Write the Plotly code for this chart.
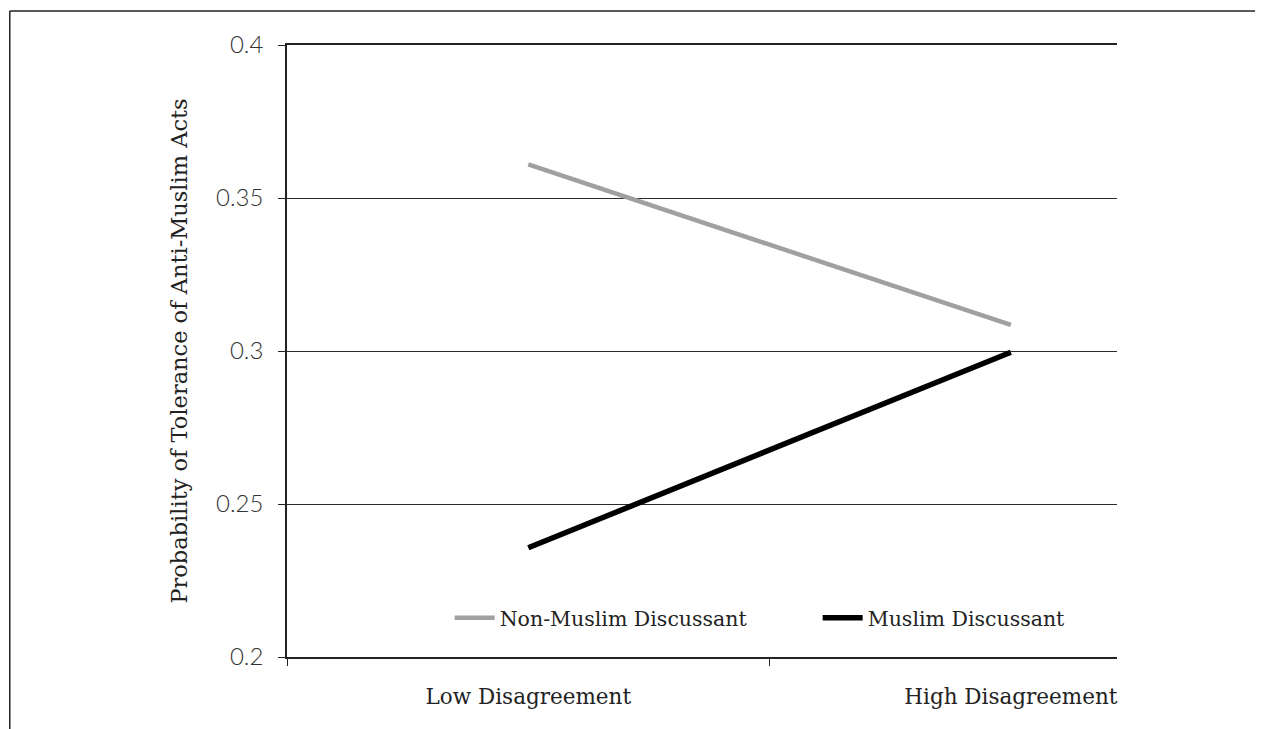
import plotly.graph_objects as go

categories = ["Low Disagreement", "High Disagreement"]
cat_pos = [0, 1]
non_muslim = [0.361, 0.3085]
muslim = [0.2357, 0.2996]
y_ticks = [0.2, 0.25, 0.3, 0.35, 0.4]

SERIF = "DejaVu Serif"
SANS = "Lato"

fig = go.Figure()
fig.add_trace(go.Scatter(x=cat_pos, y=non_muslim, mode="lines", name="Non-Muslim Discussant",
                         line=dict(color="#a0a0a0", width=4.5)))
fig.add_trace(go.Scatter(x=cat_pos, y=muslim, mode="lines", name="Muslim Discussant",
                         line=dict(color="#000000", width=5.5)))

fig.update_layout(
    width=1255, height=721,
    margin=dict(l=279, r=146, t=37, b=72),
    paper_bgcolor="white", plot_bgcolor="white",
    showlegend=True,
    legend=dict(orientation="h", x=0.196, y=0.064, xanchor="left", yanchor="middle",
                font=dict(family=SERIF, size=20.5, color="#222"),
                bgcolor="rgba(0,0,0,0)", entrywidth=313, entrywidthmode="pixels",
                itemwidth=40),
    shapes=[
        dict(type="line", xref="paper", yref="paper", x0=-0.334, x1=1.3, y0=1.0556, y1=1.0556,
             line=dict(color="#222", width=1.5)),
        dict(type="line", xref="paper", yref="paper", x0=-0.334, x1=-0.334, y0=1.0556, y1=-0.2,
             line=dict(color="#222", width=1.5)),
    ],
)

fig.update_xaxes(
    range=[-0.5, 1.22],
    tickmode="array", tickvals=cat_pos, ticktext=categories,
    ticks="", showgrid=False, zeroline=False,
    showline=True, linecolor="#222", linewidth=1.6, mirror=True,
    tickfont=dict(family=SERIF, size=21.5, color="#222"),
    ticklabelstandoff=19,
    minor=dict(dtick=1, tick0=0.5, ticks="outside", ticklen=7, tickcolor="#222", tickwidth=1.3, showgrid=False),
)
fig.update_yaxes(
    range=[0.2, 0.4],
    tickmode="array", tickvals=y_ticks, ticktext=[str(v) for v in y_ticks],
    ticks="outside", ticklen=7, tickcolor="#222", tickwidth=1.3,
    showgrid=True, gridcolor="#2a2a2a", gridwidth=1.4, zeroline=False,
    showline=True, linecolor="#222", linewidth=1.6,
    tickfont=dict(family=SANS, size=24, color="#333", weight=300),
    ticklabelstandoff=10,
    title=dict(text="Probability of Tolerance of Anti-Muslim Acts", standoff=22,
               font=dict(family=SERIF, size=22.5, color="#222")),
)

fig.write_html("out.html")
